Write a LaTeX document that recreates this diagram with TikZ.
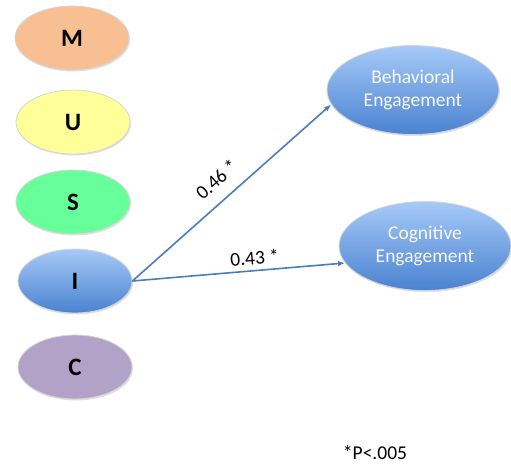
\documentclass[tikz,border=0pt]{standalone}
\usepackage{fontspec}
\setmainfont{Carlito}
\usetikzlibrary{arrows.meta,shapes.geometric,shadows}

\definecolor{mfill}{HTML}{F8BF93}
\definecolor{ufill}{HTML}{FFFF99}
\definecolor{sfill}{HTML}{66FF99}
\definecolor{cfill}{HTML}{B3A2C7}
\definecolor{bluetop}{HTML}{A6CAF8}
\definecolor{bluebot}{HTML}{4A82D0}
\definecolor{edgeline}{HTML}{D6D6D6}
\definecolor{arrowblue}{HTML}{4A7EBB}

\begin{document}
\begin{tikzpicture}[x=1pt, y=-1pt, >={Latex[length=7pt,width=5.5pt]},
  font=\fontsize{19.5}{23}\selectfont,
  blob/.style={ellipse, draw=edgeline, line width=0.8pt, inner sep=0pt,
    drop shadow={shadow xshift=1pt, shadow yshift=-1.5pt, opacity=0.25}},
  factor/.style={blob, minimum width=114pt, minimum height=64pt,
    font=\fontsize{25}{28}\selectfont\bfseries},
  outcome/.style={blob, minimum width=172pt, minimum height=89pt,
    top color=bluetop, bottom color=bluebot, text=white!95!gray,
    align=center},
  path/.style={->, draw=arrowblue, line width=1.6pt}]
  \useasboundingbox (0,0) rectangle (511,466);

  % predictors
  \node[factor, fill=mfill] (M) at (72,38) {M};
  \node[factor, fill=ufill] (U) at (73,122) {U};
  \node[factor, fill=sfill] (S) at (73,202) {S};
  \node[factor, top color=bluetop, bottom color=bluebot] (I) at (75,281) {I};
  \node[factor, fill=cfill] (C) at (75,367) {C};

  % outcomes
  \node[outcome] (beh) at (413,90) {Behavioral\\Engagement};
  \node[outcome] (cog) at (425,246) {Cognitive\\Engagement};

  % paths
  \draw[path] (I.east) -- (beh.190)
    node[pos=0.49, sloped, above=9pt] (p1) {0.46 *};
  \draw[path] (I.east) -- (cog.192)
    node[pos=0.58, sloped, above=2pt] (p2) {0.43 *};

  \node (note) at (375,453) {*P<.005};
\end{tikzpicture}
\end{document}
